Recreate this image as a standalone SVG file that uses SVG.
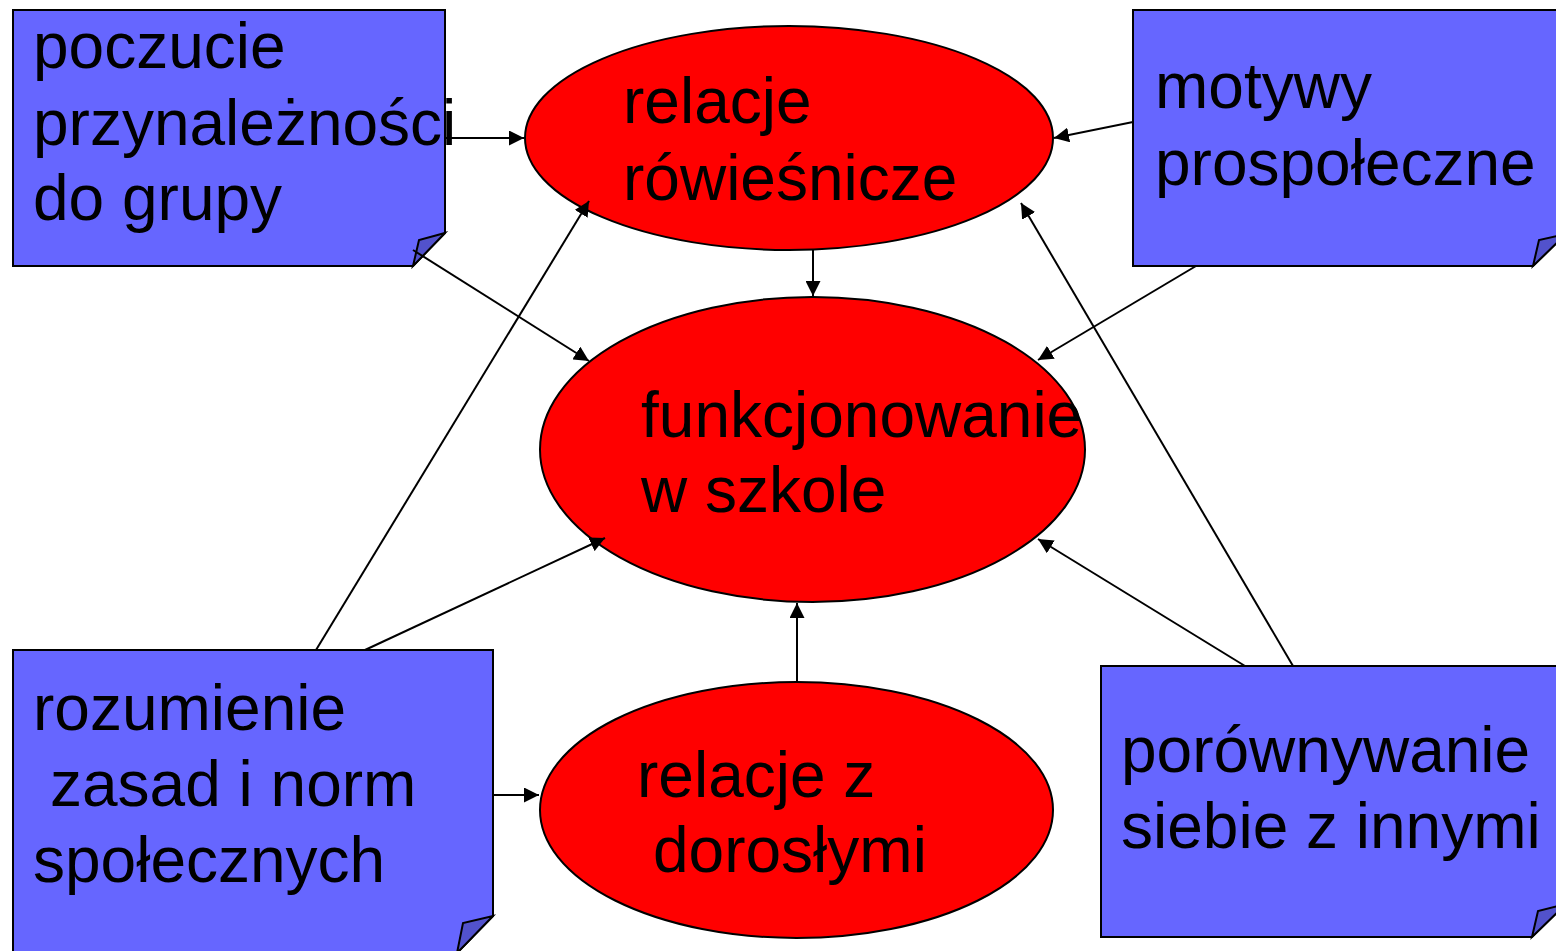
<svg xmlns="http://www.w3.org/2000/svg" width="1556" height="951" viewBox="0 0 1556 951">
<defs>
<style>
.box{fill:#6666FF;stroke:#000;stroke-width:2}
.flap{fill:#5252CC;stroke:#000;stroke-width:2;stroke-linejoin:miter}
.ell{fill:#FF0000;stroke:#000;stroke-width:2}
.t{font-family:"Liberation Sans",Arial,sans-serif;font-size:64px;fill:#000}
.c{stroke:#000;stroke-width:2;fill:none;marker-end:url(#ah)}
</style>
<marker id="ah" viewBox="0 0 10 10" refX="10" refY="5" markerWidth="7.5" markerHeight="7.5" markerUnits="strokeWidth" orient="auto">
<path d="M0,0 L10,5 L0,10 z" fill="#000"/>
</marker>
</defs>
<rect width="1556" height="951" fill="#fff"/>
<g id="n-relacje-rowiesnicze">
<ellipse class="ell" cx="789" cy="138" rx="264" ry="112"/>
<text class="t" x="623" y="123">relacje</text>
<text class="t" x="623" y="200">rówieśnicze</text>
</g>
<g id="n-funkcjonowanie">
<ellipse class="ell" cx="812.5" cy="449.5" rx="272.5" ry="152.5"/>
<text class="t" x="641" y="437">funkcjonowanie</text>
<text class="t" x="641" y="512">w szkole</text>
</g>
<g id="n-relacje-dorosli">
<ellipse class="ell" cx="796.5" cy="810" rx="256.5" ry="128"/>
<text class="t" x="637" y="797">relacje z</text>
<text class="t" x="653" y="872">dorosłymi</text>
</g>
<g id="n-poczucie">
<path class="box" d="M13,10 H445 V233 L413,266 H13 Z"/>
<path class="flap" d="M413,266 L419,240 L445,233 Z"/>
<text class="t" x="33" y="68">poczucie</text>
<text class="t" x="33" y="145">przynależności</text>
<text class="t" x="33" y="220">do grupy</text>
</g>
<g id="n-motywy">
<path class="box" d="M1133,10 H1566 V234 L1533,266 H1133 Z"/>
<path class="flap" d="M1533,266 L1539,240 L1566,234 Z"/>
<text class="t" x="1155" y="108">motywy</text>
<text class="t" x="1155" y="185">prospołeczne</text>
</g>
<g id="n-rozumienie">
<path class="box" d="M13,650 H493 V916 L457,953 H13 Z"/>
<path class="flap" d="M457,953 L463,923 L493,916 Z"/>
<text class="t" x="33" y="730">rozumienie</text>
<text class="t" x="50" y="806">zasad i norm</text>
<text class="t" x="33" y="882">społecznych</text>
</g>
<g id="n-porownywanie">
<path class="box" d="M1101,666 H1566 V904 L1532,937 H1101 Z"/>
<path class="flap" d="M1532,937 L1538,911 L1566,904 Z"/>
<text class="t" x="1121" y="772">porównywanie</text>
<text class="t" x="1121" y="848">siebie z innymi</text>
</g>
<g id="connectors">
<line class="c" x1="446" y1="138" x2="524" y2="138"/>
<line class="c" x1="1133" y1="122" x2="1054" y2="138"/>
<line class="c" x1="813" y1="250" x2="813" y2="296"/>
<line class="c" x1="413" y1="250" x2="589" y2="361"/>
<line class="c" x1="1196" y1="266" x2="1038" y2="360"/>
<line class="c" x1="316" y1="650" x2="589" y2="201"/>
<line class="c" x1="365" y1="650" x2="605" y2="538"/>
<line class="c" x1="493" y1="795" x2="539" y2="795"/>
<line class="c" x1="797" y1="682" x2="797" y2="603"/>
<line class="c" x1="1245" y1="666" x2="1038" y2="539"/>
<line class="c" x1="1293" y1="666" x2="1021" y2="203"/>
</g>
</svg>
